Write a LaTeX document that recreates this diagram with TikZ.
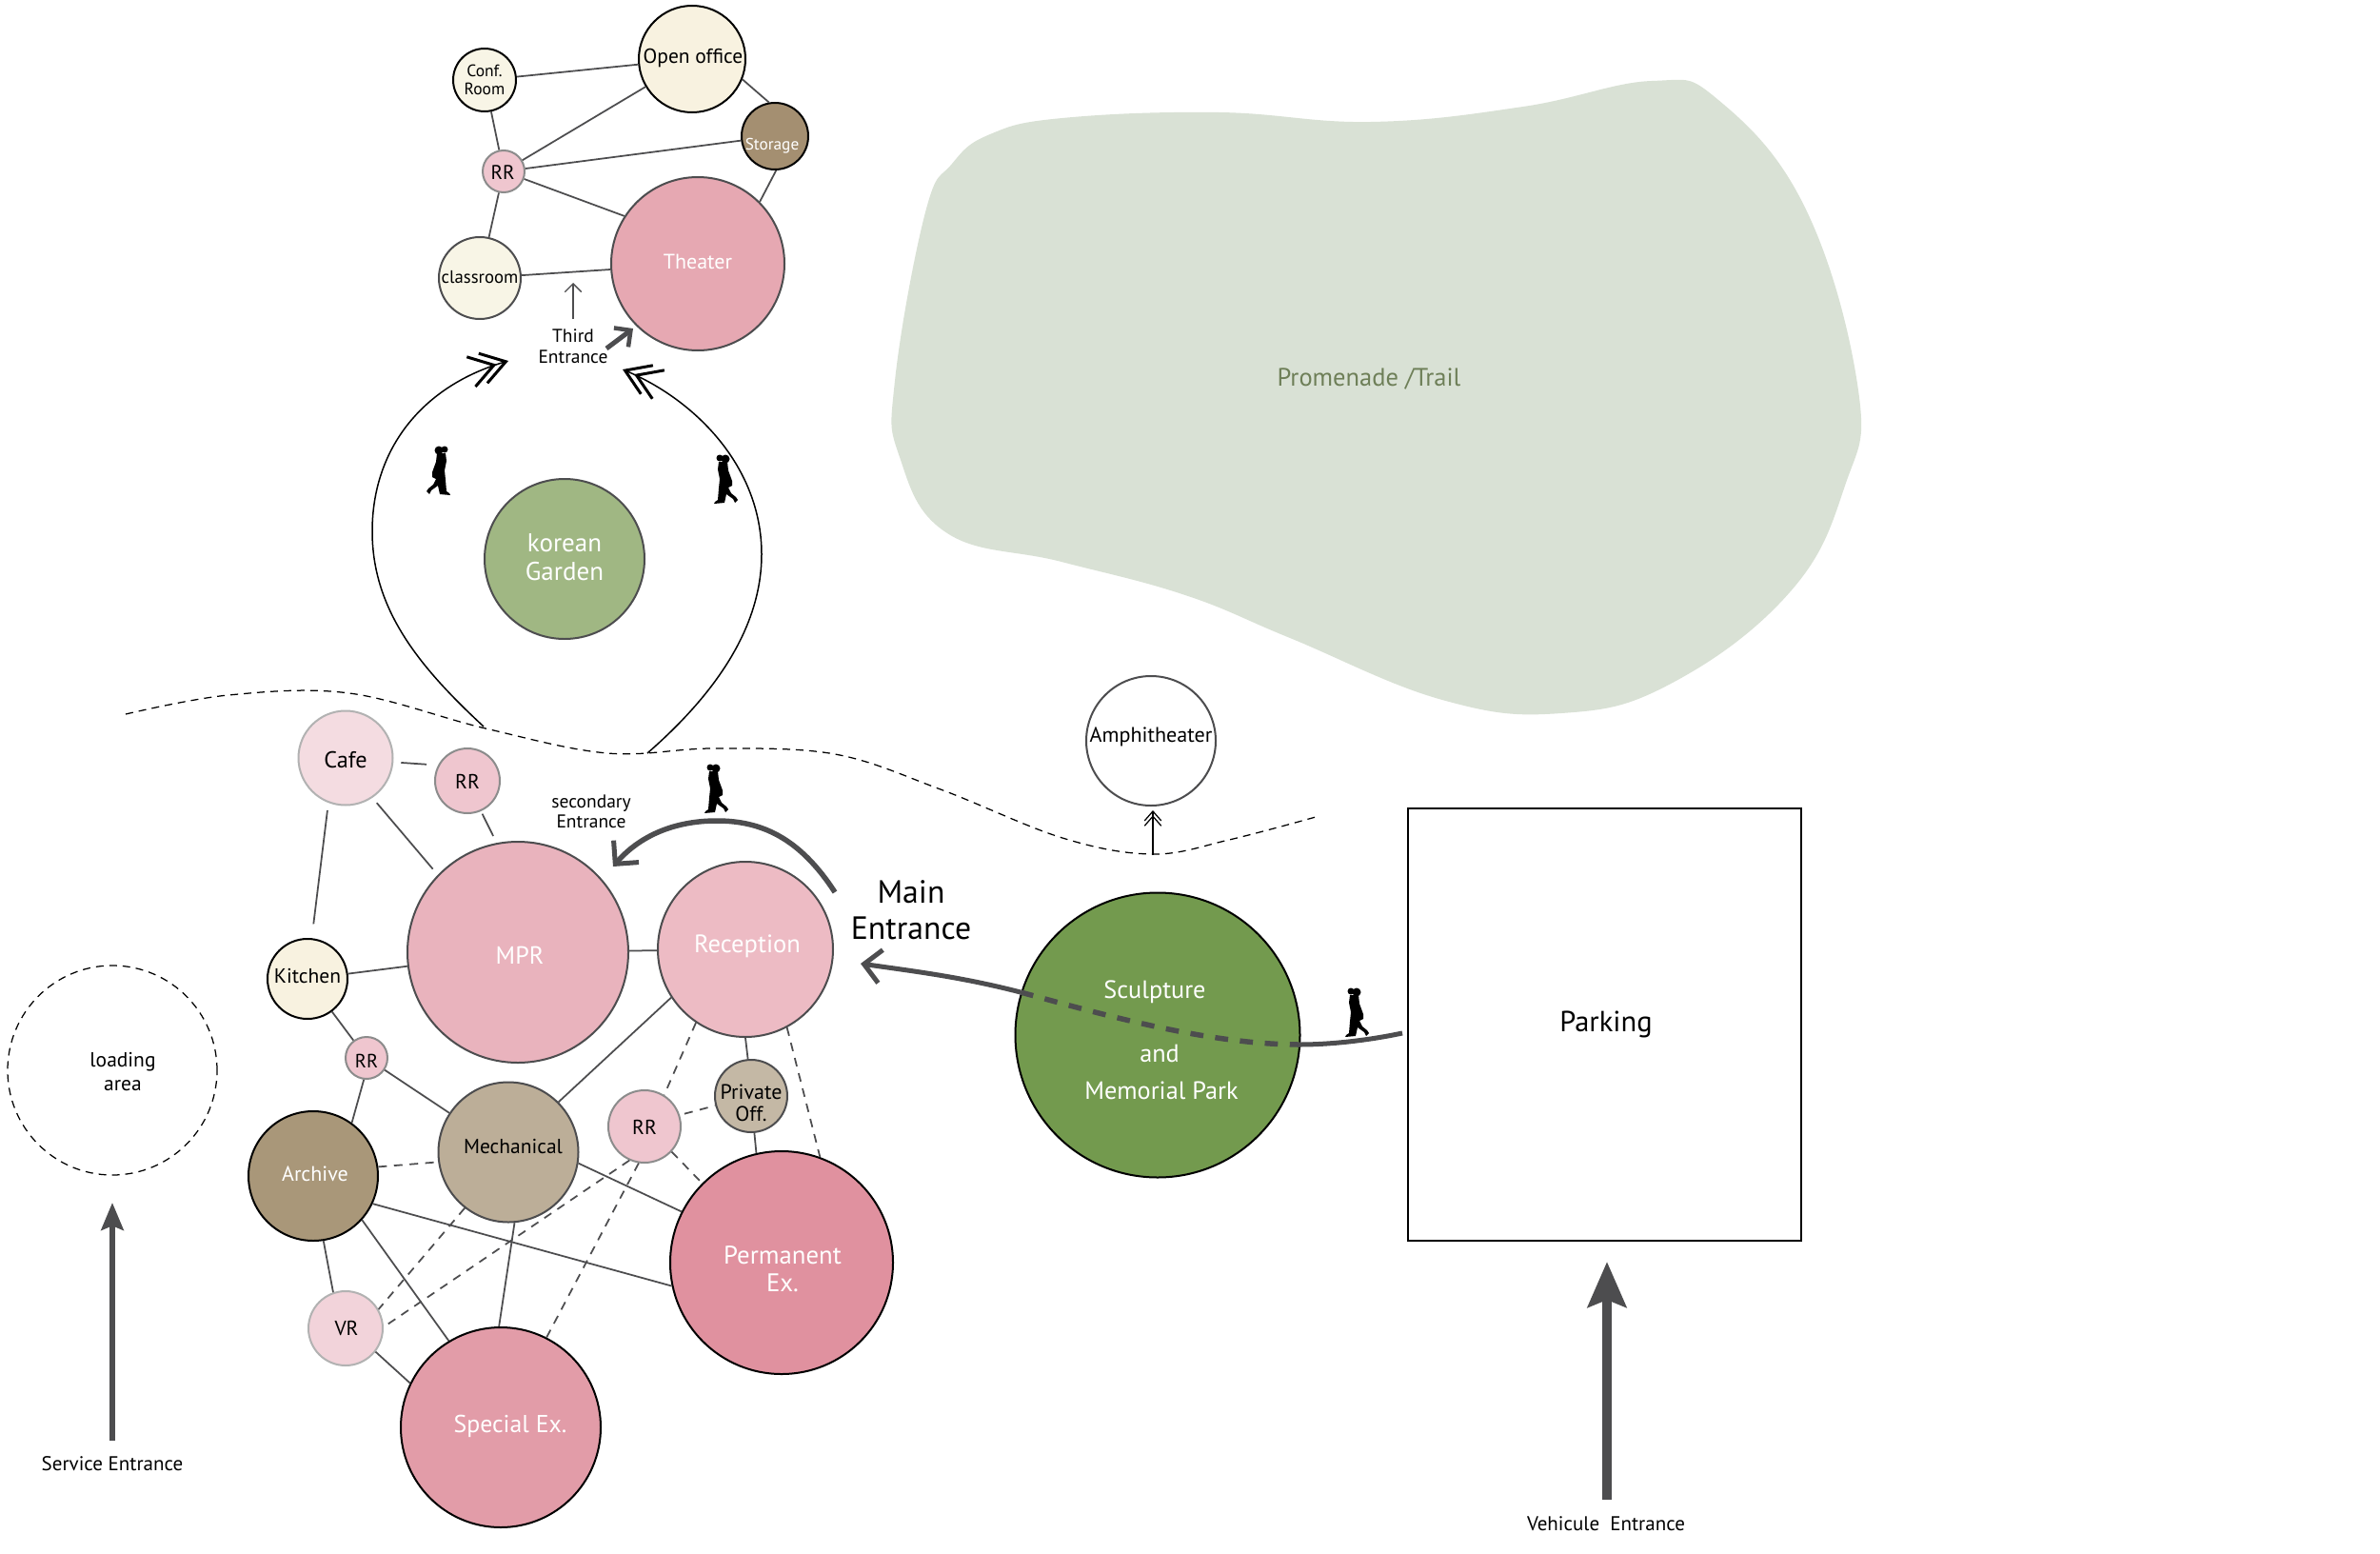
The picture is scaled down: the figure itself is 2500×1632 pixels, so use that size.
\documentclass[tikz,border=0pt]{standalone}
\usepackage{fontspec}
\setmainfont{PT Sans}
\usetikzlibrary{arrows.meta}
\definecolor{edgec}{HTML}{4D4D4F}
\definecolor{blobc}{HTML}{D9E1D5}
\definecolor{trailc}{HTML}{6E7F58}
\definecolor{creamA}{HTML}{F8F2E0}
\definecolor{creamB}{HTML}{F8F5E6}
\definecolor{pinkRR}{HTML}{EFC6CF}
\definecolor{pinkTh}{HTML}{E6A8B2}
\definecolor{pinkMP}{HTML}{E9B3BD}
\definecolor{pinkRe}{HTML}{EDBBC4}
\definecolor{pinkCa}{HTML}{F4DCE1}
\definecolor{pinkVR}{HTML}{F2D3DA}
\definecolor{pinkSp}{HTML}{E29CA8}
\definecolor{pinkPe}{HTML}{E0919F}
\definecolor{brSt}{HTML}{A48F71}
\definecolor{brAr}{HTML}{A99779}
\definecolor{brMe}{HTML}{BCAE98}
\definecolor{brPr}{HTML}{C4B8A5}
\definecolor{grSc}{HTML}{739A4E}
\definecolor{grKo}{HTML}{A0B783}
\tikzset{
  x=0.4pt,y=-0.4pt,
  room/.style={circle,draw=black,inner sep=0pt,line width=.8pt},
  soft/.style={room,draw=edgec},
  pale/.style={room,draw=gray!90},
  paler/.style={room,draw=gray!60},
  rad/.style={minimum size=#1*0.8pt},
  fs/.style 2 args={font=\fontsize{#1}{#2}\selectfont,align=center,inner sep=0pt},
  wtext/.style={text=white},
  link/.style={draw=edgec,line width=.7pt},
  dlink/.style={link,dash pattern=on 3.6pt off 3pt},
  fine/.style={draw=black,line width=.5pt,dash pattern=on 3.2pt off 2.4pt},
  walk/.style={draw=black,line width=.6pt},
  chev/.style={-{Straight Barb[length=10pt,width=13pt,line width=1.2pt,sep=-6.5pt] Straight Barb[length=10pt,width=13pt,line width=1.2pt]}},
  pics/walkers/.style={code={
    \fill[black] (6,4) circle[radius=3.5] (12,5) circle[radius=4.5];
    \fill[black] (5,8) -- (14,8) -- (15,17) -- (19,28) -- (19,33) -- (15,35) -- (18,41) -- (23,45) -- (25,48) -- (22,51) -- (20,47) -- (13,42) -- (11,51) -- (0,52) -- (1,50) -- (4,48) -- (5,36) -- (6,26) -- (4,16) -- cycle;
  }},
}
\begin{document}
\begin{tikzpicture}
\useasboundingbox[fill=white] (0,0) rectangle (2500,1632);
% promenade
\fill[blobc] plot[smooth cycle,tension=.7] coordinates {(972,223) (1000,172) (1040,141) (1116,124) (1280,118) (1440,128) (1600,112) (1735,85) (1805,105) (1897,220) (1952,410) (1938,510) (1880,622) (1755,718) (1640,749) (1515,735) (1355,670) (1245,625) (1115,590) (995,560) (945,480) (940,400)};
\node[fs={10.6}{12},text=trailc] (trail) at (1438,398) {Promenade /Trail};
% fine dashed boundary
\draw[fine] plot[smooth,tension=.6] coordinates {(132,750) (240,730) (367,728) (510,765) (638,791) (750,786) (877,792) (988,829) (1116,880) (1211,897) (1291,882) (1382,858)};
% rooms: third building
\node[room,rad=56,fill=creamA] (open) at (727,62) {};
\node[room,rad=33,fill=creamB] (conf) at (509,84) {};
\node[pale,rad=22,fill=pinkRR] (rrtop) at (529,180) {};
\node[room,rad=35,fill=brSt] (storage) at (814,143) {};
\node[soft,rad=91,fill=pinkTh] (theater) at (733,277) {};
\node[soft,rad=43,fill=creamB] (classroom) at (504,292) {};
\node[soft,rad=84,fill=grKo] (garden) at (593,587) {};
% rooms: main building
\node[paler,rad=49.5,fill=pinkCa] (cafe) at (363,796) {};
\node[pale,rad=34,fill=pinkRR] (rrcafe) at (491,820) {};
\node[soft,rad=116,fill=pinkMP] (mpr) at (544,1000) {};
\node[soft,rad=92,fill=pinkRe] (reception) at (783,997) {};
\node[room,rad=42,fill=creamA] (kitchen) at (323,1028) {};
\node[pale,rad=22,fill=pinkRR] (rrkit) at (385,1111) {};
\node[soft,rad=38,fill=brPr] (private) at (789,1151) {};
\node[pale,rad=38,fill=pinkRR] (rrmid) at (677,1183) {};
\node[soft,rad=73.5,fill=brMe] (mech) at (534,1210) {};
\node[room,rad=68,fill=brAr] (archive) at (329,1235) {};
\node[paler,rad=39,fill=pinkVR] (vr) at (363,1395) {};
\node[room,rad=105,fill=pinkSp] (special) at (526,1499) {};
\node[room,rad=117,fill=pinkPe] (permanent) at (821,1326) {};
\node[room,rad=149.5,fill=grSc] (sculpture) at (1216,1087) {};
\node[soft,rad=68,fill=white] (amphi) at (1209,778) {};
\node[room,draw=black,line width=.5pt,dash pattern=on 3.2pt off 2.4pt,rad=110] (loading) at (118,1124) {};
\node[draw=black,line width=.7pt,minimum width=165.2pt,minimum height=181.6pt,inner sep=0pt] (parking) at (1685.5,1076) {};
% links, third building
\draw[link] (conf) -- (open);
\draw[link] (conf) -- (rrtop);
\draw[link] (rrtop) -- (open);
\draw[link] (rrtop) -- (storage);
\draw[link] (rrtop) -- (theater.147);
\draw[link] (rrtop) -- (classroom);
\draw[link] (classroom) -- (theater);
\draw[link] (open.-22) -- (storage.100);
\draw[link] (storage.-88) -- (theater.45);
% links, main building
\draw[link,shorten >=4.8pt,shorten <=3.2pt] (cafe.-5) -- (rrcafe.152);
\draw[link,shorten <=3.2pt,shorten >=6pt] (cafe.-111) -- (kitchen.84);
\draw[link,shorten <=2.8pt,shorten >=3.2pt] (cafe.-56) -- (mpr.136.7);
\draw[link,shorten <=1.2pt,shorten >=3.2pt] (rrcafe.-66) -- (mpr.101);
\draw[link] (kitchen) -- (mpr);
\draw[link] (kitchen) -- (rrkit);
\draw[link] (mpr) -- (reception);
\draw[link] (rrkit) -- (mech);
\draw[link] (rrkit.-97) -- (archive.54);
\draw[link] (mech.45) -- (reception.213.5);
\draw[link] (reception.-90) -- (private.95);
\draw[link] (private.-85) -- (permanent.103);
\draw[link] (archive.-25) -- (permanent.192);
\draw[link] (mech.-9) -- (permanent.153);
\draw[link] (mech.-85) -- (special.91);
\draw[link] (archive.-42) -- (special.121);
\draw[link] (archive.-81) -- (vr.109);
\draw[link] (vr.-38) -- (special.154);
\draw[dlink] (reception.-124.4) -- (rrmid.58);
\draw[dlink,shorten <=2pt] (rrmid.18) -- (private.195);
\draw[dlink] (reception.-62) -- (permanent.70.6);
\draw[dlink] (rrmid.-43) -- (permanent.135);
\draw[dlink] (archive.8) -- (mech.188);
\draw[dlink] (mech.-128) -- (vr.30);
\draw[dlink] (rrmid.-114) -- (vr.2);
\draw[dlink] (rrmid.-99) -- (special.63);
% circulation around the garden
\coordinate (walkLstart) at (508,763);
\coordinate (walkLend) at (534,379);
\coordinate (walkRstart) at (680,791);
\coordinate (walkRend) at (654,388);
\draw[walk,chev] (walkLstart) .. controls (440,700) and (391,640) .. (391,558) .. controls (391,470) and (445,405) .. (walkLend);
\draw[walk,chev] (walkRstart) .. controls (750,730) and (800,660) .. (800,582) .. controls (800,490) and (730,420) .. (walkRend);
% third entrance
\coordinate (thirdA) at (602,335);
\coordinate (thirdB) at (602,297);
\draw[edgec,line width=.5pt,-{Straight Barb[length=3.5pt,width=7pt]}] (thirdA) -- (thirdB);
\coordinate (thirdC) at (637,366);
\coordinate (thirdD) at (665,345);
\draw[edgec,line width=2pt,-{Straight Barb[length=5pt,width=10pt,line width=1.8pt]}] (thirdC) -- (thirdD);
% secondary entrance
\coordinate (secA) at (877,937);
\coordinate (secB) at (644,910);
\draw[edgec,line width=2.2pt,-{Straight Barb[length=7pt,width=14pt,line width=2pt]}] (secA) .. controls (840,880) and (800,862) .. (753,862) .. controls (705,862) and (670,880) .. (secB);
% main walk
\coordinate (mainTip) at (904,1012);
\coordinate (mainIn) at (1072,1042);
\coordinate (mainOut) at (1365,1097);
\coordinate (mainEnd) at (1473,1085);
\draw[edgec,line width=2pt,-{Straight Barb[length=7pt,width=14pt,line width=2pt]}] (mainIn) .. controls (1010,1026) and (960,1020) .. (mainTip);
\draw[edgec,line width=2.2pt,dash pattern=on 5.5pt off 5pt] (mainIn) .. controls (1160,1066) and (1270,1097) .. (mainOut);
\draw[edgec,line width=2pt] (mainOut) .. controls (1400,1097) and (1440,1092) .. (mainEnd);
% amphitheater arrow
\coordinate (amphA) at (1211,898);
\coordinate (amphB) at (1211,851);
\draw[black,line width=.5pt,-{Straight Barb[length=4pt,width=7pt,sep=-2.5pt] Straight Barb[length=4pt,width=7pt]}] (amphA) -- (amphB);
% service and vehicle arrows
\coordinate (servA) at (118,1513);
\coordinate (servB) at (118,1263);
\draw[edgec,line width=2.4pt,-{Stealth[length=11.5pt,width=9.3pt,inset=1.8pt]}] (servA) -- (servB);
\coordinate (vehA) at (1688,1575);
\coordinate (vehB) at (1688,1325);
\draw[edgec,line width=4.3pt,-{Stealth[length=19pt,width=16pt,inset=3pt]}] (vehA) -- (vehB);
% walkers
\pic (w1) at (473,468) [xscale=-1] {walkers};
\pic (w2) at (750,477) {walkers};
\pic (w3) at (740,802) {walkers};
\pic (w4) at (1413,1037) {walkers};
% labels
\node[fs={8.6}{10}] (t1) at (728,61) {Open office};
\node[fs={7}{7.6}] (t2) at (509,84) {Conf.\\Room};
\node[fs={8.4}{9}] (t3) at (528,181) {RR};
\node[fs={6.9}{8},wtext] (t4) at (811,153) {Storage};
\node[fs={8.8}{9},wtext] (t5) at (733,275) {Theater};
\node[fs={7.5}{9}] (t6) at (504,291) {classroom};
\node[fs={7.8}{8.8}] (t7) at (602,364) {Third\\Entrance};
\node[fs={10.8}{12},wtext] (t8) at (593,585) {korean\\Garden};
\node[fs={9.7}{11}] (t9) at (363,798) {Cafe};
\node[fs={8.6}{10}] (t10) at (491,821) {RR};
\node[fs={7.8}{8.4}] (t11) at (621,852) {secondary\\Entrance};
\node[fs={10.4}{11},wtext] (t12) at (546,1003) {MPR};
\node[fs={10.6}{12},wtext] (t13) at (785,994) {Reception};
\node[fs={8.6}{10}] (t14) at (323,1025) {Kitchen};
\node[fs={8.1}{9}] (t15) at (385,1114) {RR};
\node[fs={8.8}{9.2}] (t16) at (789,1158) {Private\\Off.};
\node[fs={8.6}{10}] (t17) at (677,1184) {RR};
\node[fs={8.6}{9}] (t18) at (539,1204) {Mechanical};
\node[fs={8.8}{9},wtext] (t19) at (331,1233) {Archive};
\node[fs={8.6}{9}] (t20) at (364,1395) {VR};
\node[fs={10.7}{11.6},wtext] (t21) at (822,1333) {Permanent\\Ex.};
\node[fs={10.3}{12},wtext] (t22) at (536,1498) {Special Ex.};
\node[fs={10.5}{12},wtext] (t23) at (1213,1042) {Sculpture};
\node[fs={10.5}{12},wtext] (t24) at (1218,1106) {and};
\node[fs={10.5}{12},wtext] (t25) at (1220,1145) {Memorial Park};
\node[fs={13.5}{15.2}] (t26) at (957,956) {Main\\Entrance};
\node[fs={12.2}{14}] (t27) at (1687,1076) {Parking};
\node[fs={8.85}{10}] (t28) at (1209,774) {Amphitheater};
\node[fs={8.6}{10}] (t29) at (129,1126) {loading\\area};
\node[fs={8.4}{9}] (t30) at (118,1537) {Service Entrance};
\node[fs={8.4}{9}] (t31) at (1687,1600) {Vehicule\ \ Entrance};
\end{tikzpicture}
\end{document}
